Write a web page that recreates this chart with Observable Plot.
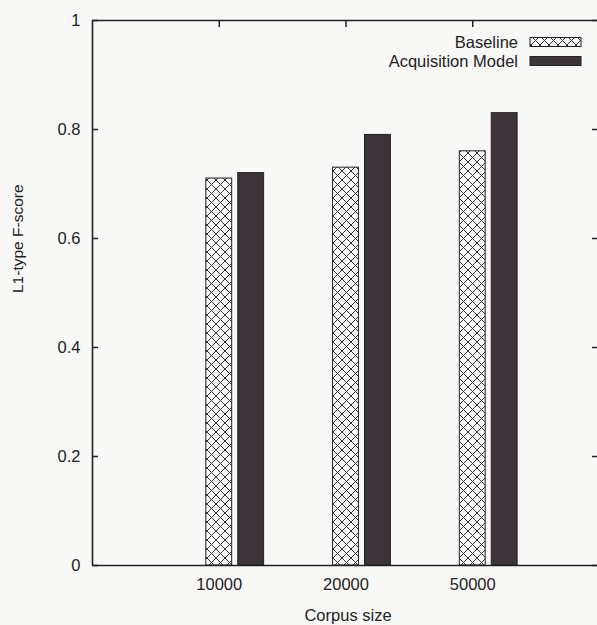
<!DOCTYPE html>
<html>
<head>
<meta charset="utf-8">
<script src="https://cdn.jsdelivr.net/npm/d3@7"></script>
<script src="https://cdn.jsdelivr.net/npm/@observablehq/plot@0.6"></script>
<style>
  html, body { margin: 0; padding: 0; background: #f8f8f7; }
  #chart svg { display: block; }
</style>
</head>
<body>
<div id="chart"></div>
<script>
// ---- data ----
const corpusSizes = ["10000", "20000", "50000"];
const baseline = [0.71, 0.73, 0.76];
const acquisition = [0.72, 0.79, 0.83];
const seriesNames = ["Baseline", "Acquisition Model"];
const yTicks = [0, 0.2, 0.4, 0.6, 0.8, 1];
const yTickLabels = ["0", "0.2", "0.4", "0.6", "0.8", "1"];

// ---- layout constants ----
const W = 597, H = 625;
const mLeft = 92, mTop = 20, mBottom = 60, mRight = 0;
const frameW = W - mLeft - mRight;
const frameH = H - mTop - mBottom;
const groupIdx = corpusSizes.map((_, i) => i);
const barHalf = 0.102;           // half bar width (x units)
const seriesOffset = [0, 0.252]; // offset of each series within a cluster
const ink = "#222";
const darkFill = "#3c3438";
const bg = "#f8f8f7";

const rows = [];
corpusSizes.forEach((c, i) => {
  rows.push({i, series: 0, value: baseline[i]});
  rows.push({i, series: 1, value: acquisition[i]});
});

// pattern defs
function hatchDefs() {
  const g = d3.create("svg:g");
  const p = g.append("defs").append("pattern")
    .attr("id", "xhatch")
    .attr("patternUnits", "userSpaceOnUse")
    .attr("width", 9).attr("height", 9);
  p.append("rect").attr("width", 9).attr("height", 9).attr("fill", bg);
  p.append("path").attr("d", "M-1,-1L10,10M10,-1L-1,10")
    .attr("stroke", "#333").attr("stroke-width", 1).attr("fill", "none");
  return g.node();
}

// legend inside top-right of frame
function legend(index, scales, values, dims) {
  const right = dims.width - dims.marginRight;
  const top = dims.marginTop;
  const g = d3.create("svg:g");
  seriesNames.forEach((name, k) => {
    const cy = top + 22 + k * 19;
    g.append("text")
      .attr("x", right - 79).attr("y", cy)
      .attr("text-anchor", "end").attr("dominant-baseline", "central")
      .attr("fill", ink)
      .style("font", "16.5px 'Liberation Sans', Arial, sans-serif")
      .text(name);
    g.append("rect")
      .attr("x", right - 67).attr("y", cy - 4.5)
      .attr("width", 51).attr("height", 9)
      .attr("fill", k === 0 ? "url(#xhatch)" : darkFill)
      .attr("stroke", ink).attr("stroke-width", 1);
  });
  return g.node();
}

const tickStyle = {stroke: ink, strokeWidth: 1.5};

const chart = Plot.plot({
  width: W,
  height: H,
  marginLeft: mLeft,
  marginTop: mTop,
  marginBottom: mBottom,
  marginRight: mRight,
  style: {background: bg, fontFamily: "'Liberation Sans', Arial, sans-serif", fontSize: "16.5px", color: ink},
  x: {type: "linear", domain: [-1, 3], range: [mLeft, 599]},
  y: {domain: [0, 1], range: [H - mBottom, mTop]},
  marks: [
    hatchDefs,
    // inward ticks: left, right, top, bottom
    Plot.tickY(yTicks, {y: d => d, insetRight: frameW - 6, ...tickStyle}),
    Plot.tickY(yTicks, {y: d => d, insetLeft: frameW - 5, ...tickStyle}),
    Plot.tickX(groupIdx, {x: d => d, insetBottom: frameH - 7, ...tickStyle}),
    Plot.tickX(groupIdx, {x: d => d, insetTop: frameH - 7, ...tickStyle}),
    // bars
    Plot.rectY(rows, {
      x1: d => d.i + seriesOffset[d.series] - barHalf,
      x2: d => d.i + seriesOffset[d.series] + barHalf,
      y1: 0,
      y2: "value",
      fill: d => d.series === 0 ? "url(#xhatch)" : darkFill,
      stroke: ink,
      strokeWidth: 1
    }),
    // frame
    Plot.ruleX([-1, 3], {stroke: ink, strokeWidth: 1.6}),
    Plot.ruleY([0, 1], {stroke: ink, strokeWidth: 1.6}),
    // axes
    Plot.axisY(yTicks, {tickSize: 0, tickPadding: 12, label: null, tickFormat: d => yTickLabels[yTicks.indexOf(d)], fill: ink}),
    Plot.axisX(groupIdx, {tickSize: 0, tickPadding: 13, label: null, tickFormat: d => corpusSizes[d], fill: ink}),
    Plot.text(["L1-type F-score"], {frameAnchor: "left", dx: -74, rotate: -90, fill: ink, fontSize: 15.5}),
    Plot.text(["Corpus size"], {frameAnchor: "bottom", dy: 55, dx: 3, fill: ink, fontSize: 16.5}),
    legend
  ]
});

document.getElementById("chart").appendChild(chart);
</script>
</body>
</html>
